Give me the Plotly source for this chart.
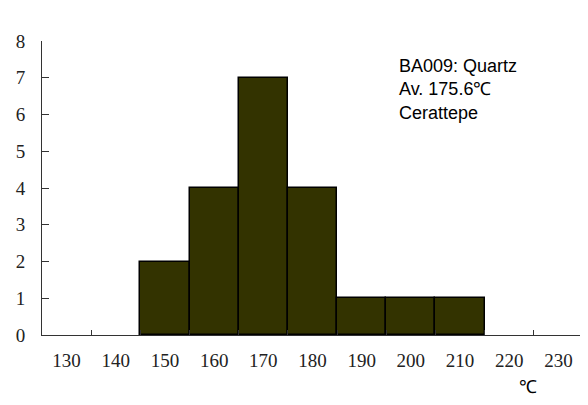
import plotly.graph_objects as go

categories = ["130", "140", "150", "160", "170", "180", "190", "200", "210", "220", "230"]
bar_bins = ["150", "160", "170", "180", "190", "200", "210"]
counts = [2, 4, 7, 4, 1, 1, 1]
y_ticks = [0, 1, 2, 3, 4, 5, 6, 7, 8]
note_lines = ["BA009: Quartz", "Av. 175.6℃", "Cerattepe"]
unit_label = "℃"

fig = go.Figure(go.Bar(
    x=bar_bins, y=counts,
    marker=dict(color="#333300", line=dict(color="black", width=1.5)),
))

# page body has an 8px default margin; compensate so the plot sits where the reference does
fig.update_layout(
    width=580, height=397,
    margin=dict(l=34, r=5, t=33, b=70, autoexpand=False),
    paper_bgcolor="white", plot_bgcolor="white",
    bargap=0, showlegend=False,
    font=dict(family="Liberation Serif, DejaVu Serif, serif", size=19, color="#222"),
)
fig.update_xaxes(
    type="category", categoryorder="array", categoryarray=categories,
    tickvals=categories, range=[-0.5, len(categories) - 0.5],
    tickson="boundaries", ticks="inside", ticklen=5, tickcolor="#333",
    showline=True, linecolor="#333", linewidth=1, showgrid=False,
    ticklabelstandoff=8, automargin=False,
)
fig.update_yaxes(
    range=[0, 8], tickvals=y_ticks, ticks="inside", ticklen=7, tickcolor="#333",
    showline=True, linecolor="#333", linewidth=1, showgrid=False, zeroline=False,
    ticklabelstandoff=12, automargin=False,
)
fig.add_annotation(
    xref="paper", yref="paper", x=(397 - 42) / 541, y=1 - (54 - 41) / 294,
    xanchor="left", yanchor="top", align="left", showarrow=False,
    text="<br>".join(note_lines),
    font=dict(family="Liberation Sans, Arial, sans-serif", size=18, color="black"),
)
fig.add_annotation(
    xref="paper", yref="paper", x=(528 - 42) / 541, y=-(387 - 335) / 294,
    xanchor="center", yanchor="middle", showarrow=False,
    text=unit_label,
    font=dict(family="Liberation Sans, Arial, sans-serif", size=18, color="black"),
)
fig.write_html("out.html")
